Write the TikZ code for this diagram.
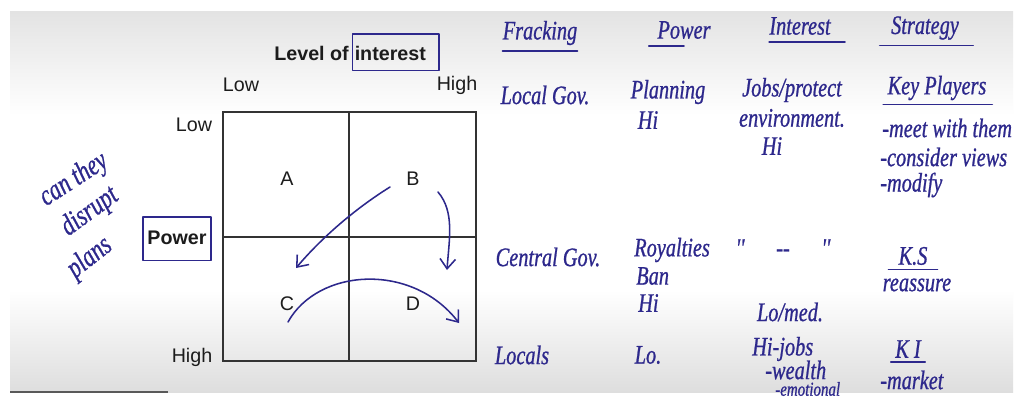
\documentclass[tikz,border=0pt]{standalone}
\usepackage{fontspec}
\setmainfont{Liberation Sans}
\newfontfamily\hand{Liberation Serif}[FakeStretch=0.76, FakeBold=0.8]
\usepackage{tikz}
\usetikzlibrary{arrows.meta, positioning, fit, backgrounds}
\definecolor{ink}{RGB}{45,40,140}
\definecolor{slideink}{RGB}{28,28,28}
\tikzstyle{slidetext} = [inner sep=0pt, text=slideink, font=\fontsize{14}{16}\selectfont]
\tikzstyle{slidebold} = [inner sep=0pt, text=slideink, font=\fontsize{14}{16}\selectfont\bfseries]
\tikzstyle{handtext}  = [inner sep=0pt, text=ink, font=\hand\itshape\fontsize{19}{21}\selectfont]
\tikzstyle{sidenote}  = [handtext, font=\hand\itshape\fontsize{21}{23}\selectfont]
\tikzstyle{inkline}   = [draw=ink, line width=1.1pt, line cap=round, line join=round]
\tikzstyle{arrow}     = [inkline, -{Straight Barb[length=7pt,width=11pt]}]
\tikzstyle{gridline}  = [draw=slideink!90, line width=1.4pt]

\begin{document}
\begin{tikzpicture}[x=0.025cm, y=-0.025cm]
      \useasboundingbox (0,0) rectangle (1024,402);
      % Slide background
      \fill[white] (0,0) rectangle (1024,402);
      \begin{scope}
      \clip (10,11) rectangle (1013,392);
      \shade[top color=black!11, bottom color=white] (10,11) rectangle (1013,115);
      \shade[top color=white, bottom color=black!13] (10,290) rectangle (1013,392);

      % Nodes
      %% Grid
      \draw[gridline] (223,112) rectangle (476,361);
      \draw[gridline] (349,112) -- (349,361);
      \draw[gridline] (223,237) -- (476,237);
      \node (levelof)      [slidebold, anchor=east] at (349,53) {Level of};
      \node (interestword) [slidebold, right=3.9pt of levelof] {interest};
      \node (lowinterest)  [slidetext] at (241,85)  {Low};
      \node (highinterest) [slidetext] at (457,85)  {High};
      \node (lowpower)     [slidetext] at (194,125) {Low};
      \node (power)        [slidebold] at (177,238) {Power};
      \node (highpower)    [slidetext] at (192,357) {High};
      \node (quadA)        [slidetext] at (287,179) {A};
      \node (quadB)        [slidetext] at (413,179) {B};
      \node (quadC)        [slidetext] at (287,304) {C};
      \node (quadD)        [slidetext] at (413,304) {D};
      %% Handwriting next to the grid
      \node (canthey) [sidenote, rotate=33] at (74,180) {can they};
      \node (disrupt) [sidenote, rotate=36] at (90,212) {disrupt};
      \node (plans)   [sidenote, rotate=38] at (90,258) {plans};
      \draw[inkline] ([xshift=-3pt,yshift=10pt]power.north west) rectangle ([xshift=3pt,yshift=-11pt]power.south east);
      \draw[inkline] ([xshift=-1.5pt,yshift=8pt]interestword.north west) rectangle ([xshift=9pt,yshift=-7pt]interestword.south east);

      %% Table headings
      \node (fracking) [handtext] at (540,33) {Fracking};
      \node (powerhd)  [handtext] at (684,30) {Power};
      \node (interest) [handtext] at (800,26) {Interest};
      \node (strategy) [handtext] at (925,28) {Strategy};
      %% Local government
      \node (localgov)    [handtext] at (545,95) {Local Gov.};
      \node (planning)    [handtext] at (668,92) {Planning};
      \node (planninghi)  [handtext] at (648,120) {Hi};
      \node (jobs)        [handtext] at (792,90) {Jobs/protect};
      \node (environment) [handtext] at (792,118) {environment.};
      \node (localhi)     [handtext] at (772,146) {Hi};
      \node (keyplayers)  [handtext] at (937,88) {Key Players};
      \node (meet)        [handtext, anchor=west] at (882,128) {-meet with them};
      \node (consider)    [handtext, anchor=west] at (880,157) {-consider views};
      \node (modify)      [handtext, anchor=west] at (880,185) {-modify};
      %% Central government
      \node (centralgov)  [handtext] at (548,257) {Central Gov.};
      \node (royalties)   [handtext, anchor=west] at (634,250) {Royalties};
      \node (ban)         [handtext, anchor=west] at (636,276) {Ban};
      \node (centralhi)   [handtext, anchor=west] at (638,303) {Hi};
      \node (ditto)       [handtext] at (783,248) {'' \quad -- \quad ''};
      \node (lomed)       [handtext] at (790,312) {Lo/med.};
      \node (ks)          [handtext] at (913,256) {K.S};
      \node (reassure)    [handtext] at (917,285) {reassure};
      %% Locals
      \node (locals)      [handtext] at (522,355) {Locals};
      \node (lo)          [handtext] at (648,355) {Lo.};
      \node (hijobs)      [handtext, anchor=west] at (752,349) {Hi-jobs};
      \node (wealth)      [handtext, anchor=west] at (765,370) {-wealth};
      \node (ki)          [handtext] at (908,349) {K I};
      \node (market)      [handtext, anchor=west] at (880,380) {-market};

      %% Underlines
      \draw[inkline] ([yshift=-4pt]fracking.south west) -- ([yshift=-4pt]fracking.south east);
      \draw[inkline] ([xshift=-6pt,yshift=-5pt]powerhd.south west) -- ([yshift=-5pt]powerhd.south);
      \draw[inkline] ([yshift=-5pt]interest.south west) -- ([xshift=10pt,yshift=-5pt]interest.south east);
      \draw[inkline] ([xshift=-8pt,yshift=-4pt]strategy.south west) -- ([xshift=10pt,yshift=-4pt]strategy.south east);
      \draw[inkline] ([xshift=-3pt,yshift=-3pt]keyplayers.south west) -- ([xshift=4pt,yshift=-3pt]keyplayers.south east);
      \draw[inkline] ([xshift=-7pt,yshift=-3pt]ks.south west) -- ([xshift=7pt,yshift=-3pt]ks.south east);
      \draw[inkline] ([xshift=-3pt,yshift=-3pt]ki.south west) -- ([xshift=3pt,yshift=-3pt]ki.south east);

      % % Arrows
      \coordinate (fromB)   at (390,187);
      \coordinate (toC)     at (296,268);
      \coordinate (fromBr)  at (438,192);
      \coordinate (toD)     at (447,270);
      \coordinate (fromC)   at (288,322);
      \coordinate (pastD)   at (459,323);
      \draw[arrow] (fromB) .. controls (350,212) and (318,242) .. (toC);
      \draw[arrow] (fromBr) .. controls (455,212) and (449,240) .. (toD);
      \draw[arrow] (fromC) .. controls (318,268) and (412,262) .. (pastD);
      \end{scope}
      \node (emotional) [handtext, font=\hand\itshape\fontsize{14}{16}\selectfont, anchor=west] at (775,389) {-emotional};
      \draw[black!65, line width=1pt] (10,392) -- (168,392);
    \end{tikzpicture}
\end{document}
